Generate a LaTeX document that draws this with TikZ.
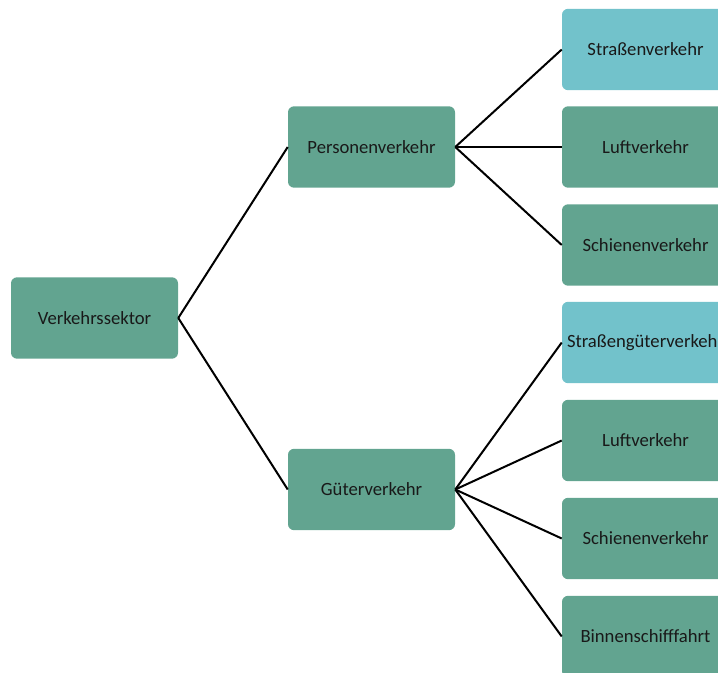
\documentclass[tikz,border=0pt]{standalone}
\usepackage{fontspec}
\setmainfont{Carlito}
\usepackage{xcolor}
\definecolor{boxgreen}{HTML}{62A490}
\definecolor{boxblue}{HTML}{72C2CB}

\begin{document}
\begin{tikzpicture}[x=0.75pt,y=0.75pt,yscale=-1,
    sektor/.style={rectangle, rounded corners=4.5pt, fill=boxgreen, draw=none,
      minimum width=125.25pt, minimum height=61pt, inner sep=0pt,
      font=\fontsize{14}{16}\selectfont, text=black!90},
    strasse/.style={sektor, fill=boxblue},
    zweig/.style={line width=1.5pt, black}]
        %set diagram to 718 x 673
        \useasboundingbox (0,0) rectangle (718,673);
        \clip (0,0) rectangle (718,673);

        % Root
        \node [sektor] (verkehr) at (94.5,318) {Verkehrssektor};

        % Second level
        \node [sektor] (personen) at (371.5,147) {Personenverkehr};
        \node [sektor] (gueter) at (371.5,489.5) {Güterverkehr};

        % Third level, Personenverkehr
        \node [strasse] (pstrasse) at (645.5,49.5) {Straßenverkehr};
        \node [sektor] (pluft) at (645.5,147) {Luftverkehr};
        \node [sektor] (pschiene) at (645.5,245) {Schienenverkehr};

        % Third level, Güterverkehr
        \node [strasse] (gstrasse) at (645.5,342.5) {Straßengüterverkehr};
        \node [sektor] (gluft) at (645.5,440.5) {Luftverkehr};
        \node [sektor] (gschiene) at (645.5,538.5) {Schienenverkehr};
        \node [sektor] (gschiff) at (645.5,636.5) {Binnenschifffahrt};

        % Connectors
        \draw [zweig] (verkehr.east) -- (personen.west);
        \draw [zweig] (verkehr.east) -- (gueter.west);
        \draw [zweig] (personen.east) -- (pstrasse.west);
        \draw [zweig] (personen.east) -- (pluft.west);
        \draw [zweig] (personen.east) -- (pschiene.west);
        \draw [zweig] (gueter.east) -- (gstrasse.west);
        \draw [zweig] (gueter.east) -- (gluft.west);
        \draw [zweig] (gueter.east) -- (gschiene.west);
        \draw [zweig] (gueter.east) -- (gschiff.west);
\end{tikzpicture}
\end{document}
